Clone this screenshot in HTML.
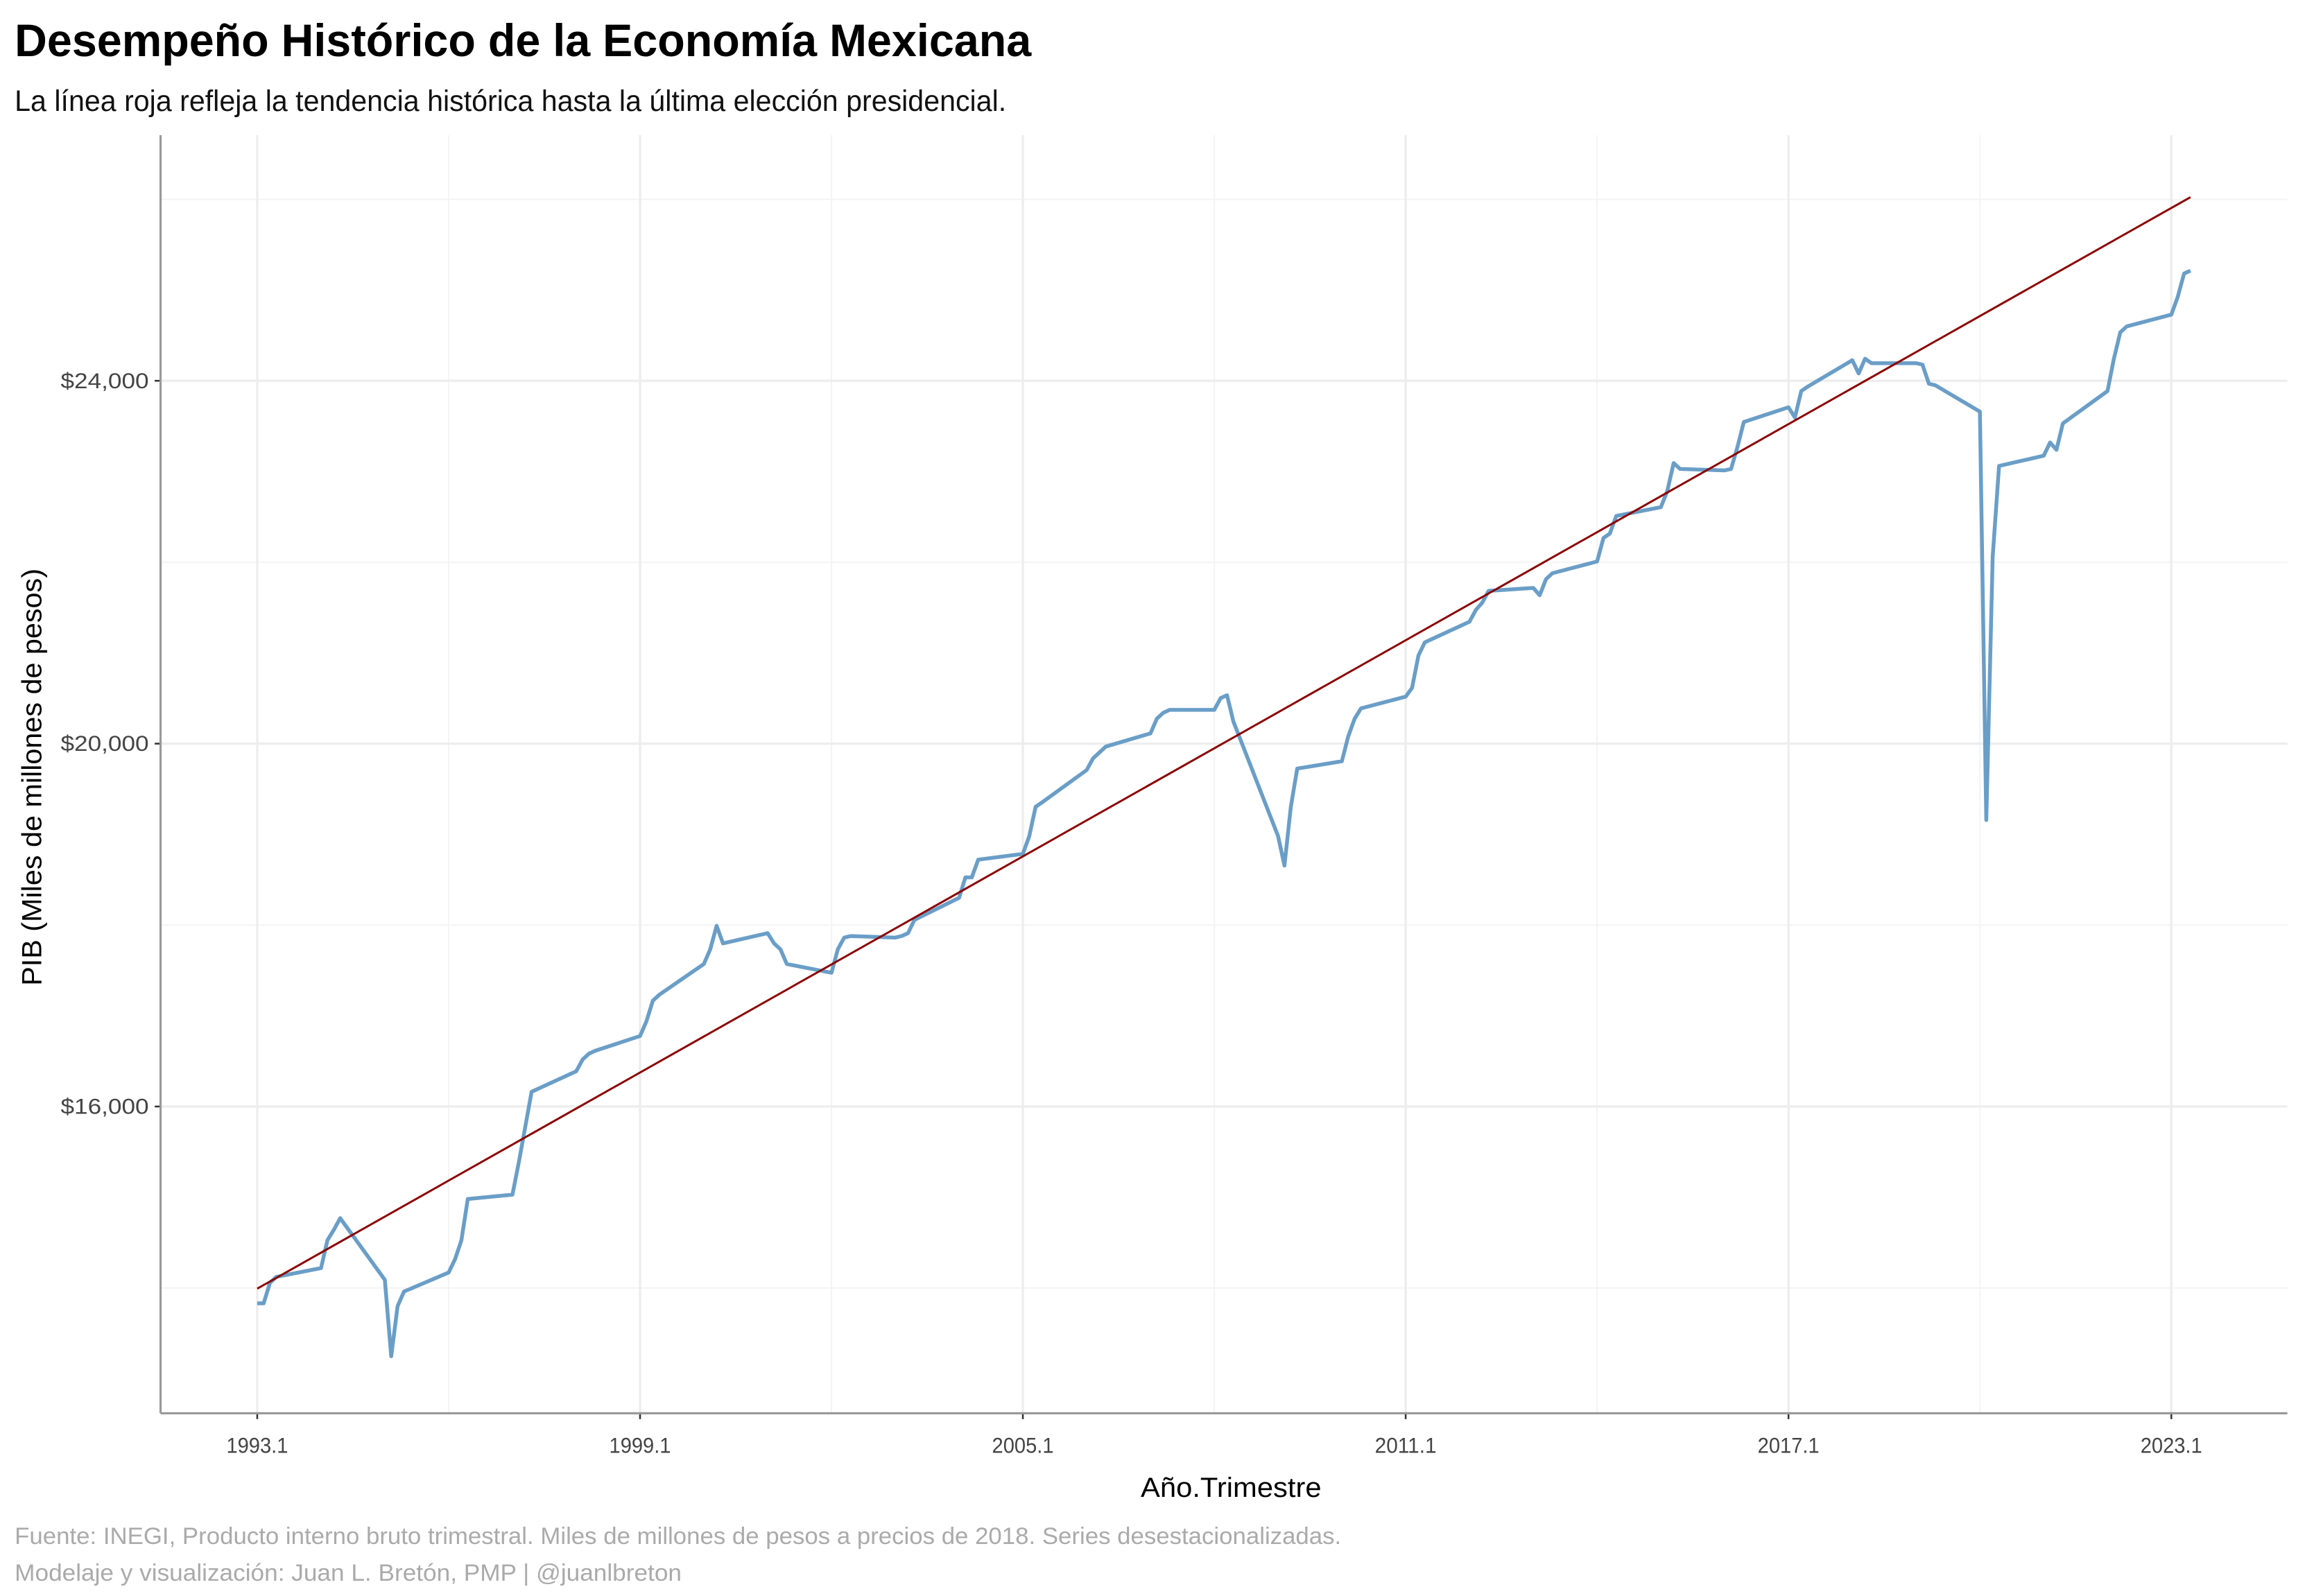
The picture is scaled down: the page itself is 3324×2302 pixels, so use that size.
<!DOCTYPE html>
<html><head><meta charset="utf-8"><style>
html,body{margin:0;padding:0;background:#fff}
svg{display:block}
text{font-family:"Liberation Sans Narrow","Liberation Sans",sans-serif}
</style></head><body>
<svg id="chart" width="3324" height="2302" viewBox="0 0 1569 1086.4" preserveAspectRatio="none" xmlns="http://www.w3.org/2000/svg">
<rect width="1569" height="1087" fill="#fff"/>
<text x="10" y="38.2" font-size="31" font-weight="bold" fill="#000" textLength="692" lengthAdjust="spacingAndGlyphs">Desempeño Histórico de la Economía Mexicana</text>
<text x="10" y="75.4" font-size="20" fill="#111" textLength="675" lengthAdjust="spacingAndGlyphs">La línea roja refleja la tendencia histórica hasta la última elección presidencial.</text>
<g id="grid"></g>
<g id="axes"></g>
<g id="marks"></g>
<text x="838" y="1019" font-size="19" text-anchor="middle" fill="#000" textLength="123" lengthAdjust="spacingAndGlyphs">Año.Trimestre</text>
<text transform="translate(28,529) rotate(-90)" font-size="19" text-anchor="middle" fill="#000" textLength="284" lengthAdjust="spacingAndGlyphs">PIB (Miles de millones de pesos)</text>
<text x="10" y="1051" font-size="16" fill="#aaa" textLength="903" lengthAdjust="spacingAndGlyphs">Fuente: INEGI, Producto interno bruto trimestral. Miles de millones de pesos a precios de 2018. Series desestacionalizadas.</text>
<text x="10" y="1076" font-size="16" fill="#aaa" textLength="454" lengthAdjust="spacingAndGlyphs">Modelaje y visualización: Juan L. Bretón, PMP | @juanlbreton</text>
</svg>
<script>
const years = [1993,1994,1995,1996,1997,1998,1999,2000,2001,2002,2003,2004,2005,2006,2007,2008,2009,2010,2011,2012,2013,2014,2015,2016,2017,2018,2019,2020,2021,2022,2023];
const gdp = [
13830,13830,14057,14122, 14219,14526,14640,14769, 14089,13247,13800,13960,
14170,14316,14526,14980, 15028,15385,15773,16162, 16389,16518,16583,16615,
16777,16939,17166,17231, 17571,17733,17992,17798, 17911,17798,17733,17571,
17474,17733,17862,17879, 17862,17879,17911,18057, 18300,18526,18526,18721,
18785,18980,19304,19352, 19709,19838,19903,19968, 20113,20275,20340,20372,
20372,20502,20534,20243, 18980,18656,19304,19725, 19806,20081,20275,20389,
20518,20615,20972,21117, 21344,21474,21555,21684, 21717,21636,21814,21879,
22008,22267,22316,22510, 22607,22785,23093,23028, 23012,23028,23271,23546,
23708,23595,23887,23935, 24227,24081,24243,24194, 24194,24178,23968,23951,
23660,19158,22057,23061, 23174,23320,23239,23530, 23887,24243,24534,24599,
24729,24923,25182,25214];
const trendX = [1993.1, 2023.4];
const trendY = [13992, 26024];
const yTicks = [16000,20000,24000];
const yTickLabels = ["$16,000","$20,000","$24,000"];
const yMinor = [14000,18000,22000,26000];
const xTicks = [1993.1,1999.1,2005.1,2011.1,2017.1,2023.1];
const xTickLabels = ["1993.1","1999.1","2005.1","2011.1","2017.1","2023.1"];
const xMinor = [1996.1,2002.1,2008.1,2014.1,2020.1];

const L=109.3,R=1557,T=92,B=962;
const xs = v => 175.1 + (v-1993.1)*43.43;
const ys = v => 506.2 - (v-20000)*247/4000;
const NS="http://www.w3.org/2000/svg";
function mk(tag,attrs,parent){const e=document.createElementNS(NS,tag);for(const k in attrs)e.setAttribute(k,attrs[k]);parent.appendChild(e);return e;}
const grid=document.getElementById('grid'), axes=document.getElementById('axes'), marks=document.getElementById('marks');
yMinor.forEach(v=>{const l=mk('line',{x1:L,x2:R,y1:ys(v),y2:ys(v),stroke:'#f4f4f4','stroke-width':1},grid);

});
xMinor.forEach(v=>{const l=mk('line',{x1:xs(v),x2:xs(v),y1:T,y2:B,stroke:'#f4f4f4','stroke-width':1},grid);

});
yTicks.forEach((v,i)=>{const l=mk('line',{x1:L,x2:R,y1:ys(v),y2:ys(v),stroke:'#ededed','stroke-width':1.6},grid);


const t=mk('line',{x1:L-4,x2:L,y1:ys(v),y2:ys(v),stroke:'#333','stroke-width':1.2},axes);


const tx=mk('text',{x:L-8,y:ys(v)+5,'font-size':15,'text-anchor':'end',fill:'#444',textLength:60,lengthAdjust:'spacingAndGlyphs'},axes);tx.textContent=yTickLabels[i];

});
xTicks.forEach((v,i)=>{const l=mk('line',{x1:xs(v),x2:xs(v),y1:T,y2:B,stroke:'#ededed','stroke-width':1.6},grid);


const t=mk('line',{x1:xs(v),x2:xs(v),y1:B,y2:B+4,stroke:'#333','stroke-width':1.2},axes);


const tx=mk('text',{x:xs(v),y:B+27,'font-size':15,'text-anchor':'middle',fill:'#444',textLength:42,lengthAdjust:'spacingAndGlyphs'},axes);tx.textContent=xTickLabels[i];

});
const ax1=mk('line',{x1:L,x2:L,y1:T,y2:B,stroke:'#999','stroke-width':1.5},axes);


const ax2=mk('line',{x1:L,x2:R,y1:B,y2:B,stroke:'#999','stroke-width':1.5},axes);


let pts=[];
gdp.forEach((v,i)=>{const yr=years[Math.floor(i/4)], q=i%4+1; pts.push(xs(yr+q/10).toFixed(2)+','+ys(v).toFixed(2));});
const pl=mk('polyline',{points:pts.join(' '),fill:'none',stroke:'#6a9ec7','stroke-width':2.6,'stroke-linejoin':'round'},marks);


const tl=mk('line',{x1:xs(trendX[0]),y1:ys(trendY[0]),x2:xs(trendX[1]),y2:ys(trendY[1]),stroke:'#8b0000','stroke-width':1.4},marks);


</script>
</body></html>
